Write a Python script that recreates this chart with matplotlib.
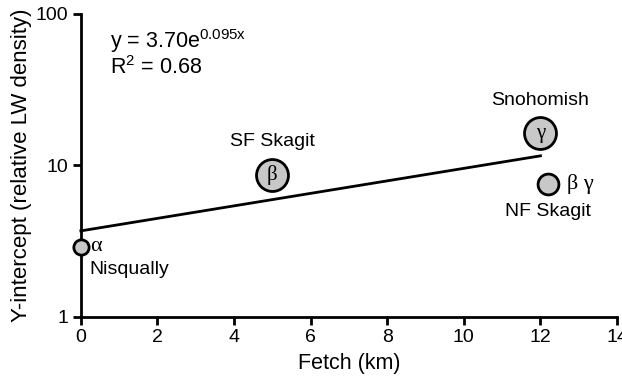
import matplotlib
matplotlib.use("Agg")
import matplotlib.pyplot as plt
import numpy as np
from matplotlib.ticker import FixedLocator, NullLocator, FixedFormatter

plt.rcParams['font.family'] = ['Liberation Sans', 'DejaVu Sans']
plt.rcParams['mathtext.fontset'] = 'custom'
plt.rcParams['mathtext.rm'] = 'Liberation Sans'
plt.rcParams['mathtext.it'] = 'Liberation Sans'

# Data
sites = ["Nisqually", "SF Skagit", "Snohomish", "NF Skagit"]
fetch = [0.0, 5.0, 12.0, 12.2]
intercept = [2.9, 8.6, 16.3, 7.6]
greek = ["α", "β", "γ", "β γ"]
marker_sizes = [11, 23, 23, 15]
fit_a = 3.70
fit_b = 0.095
fit_x = [0.0, 12.0]

fig = plt.figure(figsize=(6.22, 3.87), dpi=100)
ax = fig.add_axes([0.130, 0.181, 0.862, 0.783])

# fit line
xs = np.array(fit_x)
ax.plot(xs, fit_a * np.exp(fit_b * xs), color='black', lw=2, zorder=2, clip_on=False)

for x, y, s in zip(fetch, intercept, marker_sizes):
    ax.plot([x], [y], 'o', ms=s, mfc='#c8c8c8', mec='black', mew=2, zorder=3, clip_on=False)

# greek letters
serif = ['Liberation Serif', 'DejaVu Serif']
ax.text(fetch[0] + 0.25, intercept[0], greek[0], family=serif, fontsize=16, va='center', ha='left')
ax.text(fetch[1], intercept[1], greek[1], family=serif, fontsize=15, va='center', ha='center', zorder=4)
ax.text(fetch[2], intercept[2], greek[2], family=serif, fontsize=15, va='center', ha='center', zorder=4)
ax.text(12.7, intercept[3], greek[3], family=serif, fontsize=16, va='center', ha='left')

# site labels
ax.text(0.23, 2.05, sites[0], fontsize=14, ha='left', va='center')
ax.text(fetch[1], 14.3, sites[1], fontsize=14, ha='center', va='center')
ax.text(fetch[2], 27.0, sites[2], fontsize=14, ha='center', va='center')
ax.text(fetch[3], 4.95, sites[3], fontsize=14, ha='center', va='center')

# equation
ax.text(0.75, 66, r"y = 3.70e$^{\mathrm{0.095x}}$", fontsize=15.5, ha='left', va='center')
ax.text(0.75, 44, r"R$^{\mathrm{2}}$ = 0.68", fontsize=15.5, ha='left', va='center')

ax.set_yscale('log')
ax.set_xlim(0, 14)
ax.set_ylim(1, 100)
ax.yaxis.set_major_locator(FixedLocator([1, 10, 100]))
ax.yaxis.set_major_formatter(FixedFormatter(["1", "10", "100"]))
ax.yaxis.set_minor_locator(NullLocator())
ax.set_xticks(np.arange(0, 15, 2))

for side in ['top', 'right']:
    ax.spines[side].set_visible(False)
for side in ['left', 'bottom']:
    ax.spines[side].set_linewidth(2)
ax.tick_params(width=2, length=6, labelsize=14, direction='out', pad=3)

ax.set_xlabel("Fetch (km)", fontsize=15.5, labelpad=5)
ax.set_ylabel("Y-intercept (relative LW density)", fontsize=16, labelpad=3)

fig.savefig("out.png", dpi=100)
